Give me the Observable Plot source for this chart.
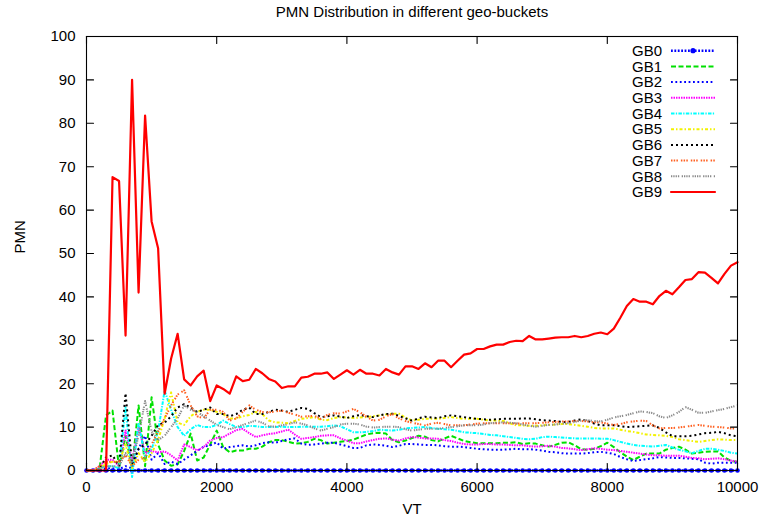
<!DOCTYPE html>
<html>
<head>
<meta charset="utf-8">
<script src="https://cdn.jsdelivr.net/npm/d3@7"></script>
<script src="https://cdn.jsdelivr.net/npm/@observablehq/plot@0.6"></script>
<style>
  html, body { margin: 0; padding: 0; background: #fff; }
  #chart { width: 760px; height: 519px; }
</style>
</head>
<body>
<div id="chart"></div>
<script>
// Sampling grid (VT) shared by every geo-bucket series
const vt = [
  0, 100, 200, 300, 400, 500, 600, 700, 800, 900,
  1000, 1100, 1200, 1300, 1400, 1500, 1600, 1700, 1800, 1900,
  2000, 2100, 2200, 2300, 2400, 2500, 2600, 2700, 2800, 2900,
  3000, 3100, 3200, 3300, 3400, 3500, 3600, 3700, 3800, 3900,
  4000, 4100, 4200, 4300, 4400, 4500, 4600, 4700, 4800, 4900,
  5000, 5100, 5200, 5300, 5400, 5500, 5600, 5700, 5800, 5900,
  6000, 6100, 6200, 6300, 6400, 6500, 6600, 6700, 6800, 6900,
  7000, 7100, 7200, 7300, 7400, 7500, 7600, 7700, 7800, 7900,
  8000, 8100, 8200, 8300, 8400, 8500, 8600, 8700, 8800, 8900,
  9000, 9100, 9200, 9300, 9400, 9500, 9600, 9700, 9800, 9900,
  10000
];

const gb0 = [
  0, 0, 0, 0, 0, 0, 0, 0, 0, 0,
  0, 0, 0, 0, 0, 0, 0, 0, 0, 0,
  0, 0, 0, 0, 0, 0, 0, 0, 0, 0,
  0, 0, 0, 0, 0, 0, 0, 0, 0, 0,
  0, 0, 0, 0, 0, 0, 0, 0, 0, 0,
  0, 0, 0, 0, 0, 0, 0, 0, 0, 0,
  0, 0, 0, 0, 0, 0, 0, 0, 0, 0,
  0, 0, 0, 0, 0, 0, 0, 0, 0, 0,
  0, 0, 0, 0, 0, 0, 0, 0, 0, 0,
  0, 0, 0, 0, 0, 0, 0, 0, 0, 0,
  0
];

const gb1 = [
  0, 0, 0.3, 12.7, 13.8, 0.5, 8, 0.5, 15, 1,
  16.9, 6, 2.3, 1.1, 1.4, 4.5, 8.5, 2.3, 3, 6,
  9.2, 5.4, 4.2, 4.6, 4.6, 5.0, 5.0, 5.5, 6.5, 7.0,
  7.0, 6.6, 6.2, 6.3, 6.6, 7.3, 7.0, 6.2, 6.4, 6.6,
  6.8, 7.1, 7.7, 8.3, 8.6, 8.7, 8.5, 7.0, 6.5, 6.9,
  7.5, 8.0, 7.8, 7.0, 6.7, 7.4, 8.0, 7.4, 6.8, 6.5,
  6.3, 6.3, 6.3, 6.3, 6.4, 6.4, 6.5, 6.1, 6.3, 6.2,
  5.8, 5.5, 5.9, 6.4, 6.5, 5.8, 4.9, 4.8, 5.0, 5.6,
  6.4, 5.4, 4.2, 3.2, 2.4, 3.2, 3.9, 3.9, 3.9, 4.8,
  5.2, 5.5, 4.8, 3.9, 4.1, 4.3, 4.4, 4.4, 3.0, 2.2,
  2.0
];

const gb2 = [
  0, 0, 0, 0.5, 0.5, 0.3, 1, 0.5, 5, 8,
  2.5, 4, 1.5, 2, 1.5, 2.5, 3.5, 4.5, 5.5, 5.8,
  6.5, 5, 5.4, 5.6, 5.8, 5.5, 5.8, 6.3, 6.5, 6.4,
  6.8, 7.2, 7.4, 6.2, 5.9, 6.0, 6.2, 6.4, 6.4, 6.0,
  5.6, 5.2, 5.2, 5.8, 6.0, 5.9, 5.7, 5.4, 5.7, 6.1,
  6.1, 6.0, 5.9, 5.9, 5.8, 5.6, 5.5, 5.5, 5.4, 5.2,
  5.0, 4.9, 4.8, 4.8, 4.8, 4.9, 5.0, 4.9, 4.9, 4.8,
  4.6, 4.3, 4.2, 4.0, 3.9, 3.9, 3.9, 4.0, 4.2, 4.3,
  4.1, 3.8, 3.1, 2.6, 2.2, 2.4, 2.6, 2.8, 3.1, 3.0,
  2.9, 2.9, 2.8, 2.7, 2.6, 1.8, 1.6, 1.8, 1.8, 1.8,
  1.8
];

const gb3 = [
  0, 0, 1, 2.5, 2.5, 1, 9.2, 2, 10, 4,
  4.5, 4.2, 4.4, 3.5, 2.3, 6, 5.4, 4.6, 5.4, 6.9,
  7.5, 7.7, 8.5, 9.3, 9.6, 8.6, 7.7, 8.1, 8.4, 8.6,
  9.0, 9.4, 8.3, 7.3, 7.5, 7.7, 8.0, 8.1, 8.1, 7.4,
  6.9, 6.3, 6.3, 6.7, 7.0, 7.3, 7.4, 7.1, 6.9, 7.4,
  7.7, 7.6, 7.4, 7.4, 7.3, 7.0, 6.8, 6.4, 6.1, 6.0,
  6.0, 6.1, 6.1, 6.0, 6.0, 5.9, 5.8, 5.8, 5.6, 5.5,
  5.6, 5.7, 5.5, 5.2, 5.1, 4.9, 4.7, 4.9, 5.1, 5.0,
  4.8, 4.7, 4.5, 4.3, 4.1, 3.9, 3.7, 3.5, 3.5, 3.4,
  3.4, 3.4, 3.2, 2.9, 2.8, 2.6, 2.7, 2.8, 2.6, 2.3,
  2.0
];

const gb4 = [
  0, 0, 0.5, 1, 1, 0.5, 14.5, -1.5, 11, 3,
  5, 9, 18.4, 14, 10, 8, 9.5, 10.5, 10, 10,
  10.5, 11.5, 10.7, 10, 10, 10.3, 10.2, 10, 10, 10,
  10.1, 10.0, 10.0, 10.1, 10.1, 10.1, 10.1, 10.2, 10.4, 10.2,
  9.5, 8.8, 8.8, 8.9, 9.1, 9.4, 9.3, 9.2, 9.4, 9.7,
  9.8, 9.9, 10.0, 9.8, 9.6, 9.5, 9.4, 9.1, 8.8, 8.7,
  8.6, 8.4, 8.2, 8.1, 7.9, 7.7, 7.5, 7.3, 7.2, 7.3,
  7.7, 7.8, 7.7, 7.6, 7.5, 7.4, 7.4, 7.4, 7.4, 7.3,
  7.3, 7.0, 6.6, 6.2, 5.9, 5.7, 5.6, 5.5, 5.7, 5.9,
  5.3, 4.8, 4.4, 4.0, 4.5, 5.0, 5.0, 4.8, 4.5, 4.1,
  3.9
];

const gb5 = [
  0, 0, 0.5, 1.5, 2, 2, 6, 0.5, 4, 2,
  4, 7, 12, 18, 11, 10.5, 12.5, 13.5, 14, 14,
  13.5, 13, 12, 12, 12.5, 12.8, 13.5, 13, 11.5, 11.1,
  11, 10.9, 11.4, 11.9, 12.1, 12.3, 11.7, 11.6, 12.1, 12.3,
  12.2, 12.1, 12.2, 12.3, 12.5, 12.7, 12.9, 13.1, 13.1, 12.2,
  11.5, 11.7, 11.9, 11.9, 11.9, 12.1, 12.3, 12.1, 11.9, 11.9,
  11.9, 11.7, 11.5, 11.5, 11.4, 10.9, 10.4, 10.4, 10.3, 10.3,
  10.4, 10.5, 10.6, 10.7, 10.7, 10.5, 10.3, 10.1, 9.8, 9.7,
  9.7, 9.7, 9.4, 9.1, 8.9, 8.6, 8.3, 8.2, 8.1, 8.0,
  7.7, 7.2, 7.0, 6.8, 6.6, 6.8, 7.0, 7.2, 7.1, 7.0,
  7.0
];

const gb6 = [
  0, 0, 0.5, 3, 3.5, 1, 17.8, 1.5, 5, 6,
  8, 10.5, 11, 12.5, 14.5, 15.3, 14.5, 13.5, 14, 14.5,
  13, 13, 12.5, 13, 14, 14.5, 13, 13, 13.5, 14,
  13.8, 13.5, 14, 14.4, 14.2, 13.2, 12.3, 12.5, 12.7, 12.4,
  12.1, 12.5, 12.8, 12.5, 12.3, 12.7, 13, 13.1, 12.6, 12,
  11.5, 12, 12.4, 12.2, 12.1, 12.5, 12.7, 12.5, 12.3, 12.1,
  11.9, 11.8, 11.7, 11.8, 11.9, 11.9, 11.9, 12, 12, 11.8,
  11.6, 11.5, 11.4, 11.2, 11.2, 11.5, 11.8, 11.4, 10.8, 10.4,
  10.4, 10.4, 10.2, 10.0, 10.1, 10.2, 10.3, 10.4, 9.8, 8.8,
  7.9, 7.9, 7.9, 8.0, 8.3, 8.6, 8.7, 8.9, 8.6, 8.1,
  7.9
];

const gb7 = [
  0, 0, 1, 2, 2, 2, 3.5, 1, 2.5, 3,
  6, 9, 12, 15, 17.5, 18.5, 15, 12.5, 12, 14,
  14, 13.5, 11.5, 12, 13.5, 15, 14, 13.5, 13.4, 13.6,
  13.8, 13.3, 12.9, 12.4, 12.5, 12.6, 11.9, 12.8, 13.2, 13.1,
  13.6, 14.2, 13.4, 12.4, 11.5, 11.7, 12.5, 13, 12, 11.4,
  11, 10.7, 10.4, 10.8, 11, 10.7, 10.4, 10.4, 10.4, 10.6,
  10.8, 10.9, 10.9, 10.9, 10.9, 10.9, 10.8, 10.9, 10.9, 10.9,
  11, 11.1, 11.2, 11.3, 11.3, 11.4, 11.4, 11.3, 11.1, 11.1,
  10.8, 10.5, 10.7, 11.1, 11.3, 11.5, 11.4, 10.4, 9.7, 9.8,
  9.8, 9.9, 10.1, 10.3, 10.5, 10.3, 10.1, 10, 9.9, 9.7,
  9.7
];

const gb8 = [
  0, 0, 0.5, 1, 1, 1, 4, 2, 8, 16,
  9, 7, 8, 10, 12, 15, 14, 13.5, 12.5, 11.5,
  10.5, 10, 9.5, 10, 10.5, 11, 11.5, 11, 10.2, 10.1,
  10.4, 10.7, 11.1, 10.8, 10.4, 9.7, 9.2, 9.6, 10.0, 10.6,
  10.8, 10.8, 10.6, 10.1, 9.9, 10.0, 10.1, 10.1, 10.0, 9.5,
  9.2, 9.4, 9.6, 9.6, 9.6, 9.8, 10.0, 10.2, 10.4, 10.4,
  10.4, 10.6, 10.9, 11.0, 11.1, 11.0, 10.9, 10.6, 10.3, 10.1,
  10.3, 10.5, 10.6, 10.8, 10.9, 11.2, 11.5, 11.6, 11.4, 11.3,
  11.7, 12.2, 12.5, 12.8, 13.2, 13.6, 13.5, 13.2, 12.5, 12.1,
  12.7, 13.5, 14.6, 14, 13.3, 13.3, 13.6, 13.9, 14.2, 14.6,
  15.0
];

const gb9 = [
  0, 0, 0, 0, 67.6, 66.7, 31.1, 90, 41, 81.8,
  57.4, 51.2, 17.7, 25.8, 31.5, 21, 19.6, 21.7, 23, 16,
  19.6, 18.8, 17.7, 21.7, 20.6, 20.9, 23.4, 22.4, 21.1, 20.5,
  19.0, 19.4, 19.4, 21.4, 21.6, 22.3, 22.3, 22.6, 21.1, 22.1,
  23.1, 22.1, 23.2, 22.3, 22.3, 21.9, 23.4, 22.6, 22.1, 24,
  24, 23.4, 24.7, 23.8, 25.3, 25.3, 23.8, 25.3, 26.7, 27.0,
  28.0, 28.0, 28.6, 29.0, 29.0, 29.6, 29.9, 29.8, 31, 30.2,
  30.2, 30.4, 30.6, 30.7, 30.7, 31, 30.7, 31, 31.5, 31.8,
  31.4, 32.7, 35.2, 37.9, 39.5, 38.9, 38.9, 38.3, 40.2, 41.4,
  40.6, 42.2, 43.9, 44.1, 45.7, 45.6, 44.4, 43.1, 45.3, 47.2,
  48.0
];

const seriesNames = ["GB0", "GB1", "GB2", "GB3", "GB4", "GB5", "GB6", "GB7", "GB8", "GB9"];
const seriesValues = [gb0, gb1, gb2, gb3, gb4, gb5, gb6, gb7, gb8, gb9];

const xTicks = [0, 2000, 4000, 6000, 8000, 10000];
const yTicks = [0, 10, 20, 30, 40, 50, 60, 70, 80, 90, 100];

const titleText = "PMN Distribution in different geo-buckets";
const xLabel = "VT";
const yLabel = "PMN";

// line styles per bucket
const colors = ["#0000ff", "#00e000", "#0000ff", "#ff00ff", "#00ffff", "#f2f200", "#000000", "#ff6020", "#8a8a8a", "#ff0000"];
const dashes = [
  "1.8,1.6",
  "5,2.5",
  "1.8,2.6",
  "1.5,1",
  "3.5,1.3,1.3,1.3",
  "3,2,1.5,2",
  "2,3",
  "1.5,1.2,1.5,1.2,1.5,3",
  "1.3,1,1.3,1,1.3,1,1.3,2.5",
  null
];
const widths = [2.6, 2, 2, 2, 2, 2, 2, 2, 2, 2.2];

// long-format rows built from the arrays above
const rows = seriesNames.map((name, s) =>
  vt.map((x, i) => ({vt: x, value: seriesValues[s][i], series: name}))
);

const font = "'Liberation Sans', Arial, Helvetica, sans-serif";
const plain = (d) => String(d);

const lineMarks = rows.map((data, s) =>
  Plot.line(data, {
    x: "vt",
    y: "value",
    stroke: colors[s],
    strokeWidth: widths[s],
    strokeDasharray: dashes[s] ?? undefined,
    strokeLinecap: dashes[s] ? "butt" : "round",
    strokeLinejoin: "round"
  })
);

// short plain tick marks pointing into the frame (a vector without a head)
const tickShape = {draw(context, l) { context.moveTo(0, 0); context.lineTo(0, -l); }};
const tickStyle = {length: 7, anchor: "start", shape: tickShape, stroke: "#000", strokeWidth: 1.1};
const ident = (d) => d;

const chart = Plot.plot({
  width: 760,
  height: 519,
  marginTop: 36,
  marginRight: 23,
  marginBottom: 49,
  marginLeft: 86,
  style: {fontFamily: font, fontSize: "15px", background: "#fff", color: "#000", overflow: "visible"},
  x: {domain: [0, 10000]},
  y: {domain: [0, 100]},
  marks: [
    // GB0 first so the other buckets draw over it
    lineMarks[0],
    Plot.dot(rows[0], {x: "vt", y: "value", r: 2.3, fill: colors[0], stroke: "none"}),
    ...lineMarks.slice(1),
    Plot.frame({stroke: "#000", strokeWidth: 1.1}),
    // tick labels
    Plot.axisX(xTicks, {anchor: "bottom", tickSize: 0, tickPadding: 11, tickFormat: plain, label: null, fontSize: 15}),
    Plot.axisY(yTicks, {anchor: "left", tickSize: 0, tickPadding: 11, tickFormat: plain, label: null, fontSize: 15}),
    // tick marks on all four sides
    Plot.vector(xTicks, {x: ident, frameAnchor: "bottom", rotate: 0, ...tickStyle}),
    Plot.vector(xTicks, {x: ident, frameAnchor: "top", rotate: 180, ...tickStyle}),
    Plot.vector(yTicks, {y: ident, frameAnchor: "left", rotate: 90, ...tickStyle}),
    Plot.vector(yTicks, {y: ident, frameAnchor: "right", rotate: -90, ...tickStyle}),
    // title and axis titles
    Plot.text([titleText], {frameAnchor: "top", dy: -24, fontSize: 15, lineAnchor: "middle"}),
    Plot.text([xLabel], {frameAnchor: "bottom", dy: 39, fontSize: 15, lineAnchor: "middle"}),
    Plot.text([yLabel], {frameAnchor: "left", dx: -66, rotate: -90, fontSize: 15, lineAnchor: "middle"})
  ]
});

document.getElementById("chart").appendChild(chart);

// key in the upper-right corner of the frame
const svg = d3.select(chart);
const frameRight = 760 - 23;
const frameTop = 36;
const legend = svg.append("g")
  .attr("font-family", font)
  .attr("font-size", 15);

seriesNames.forEach((name, s) => {
  const y = frameTop + 14.7 + s * 15.7;
  legend.append("text")
    .attr("x", frameRight - 75)
    .attr("y", y)
    .attr("dy", "0.35em")
    .attr("text-anchor", "end")
    .attr("fill", "#000")
    .text(name);
  legend.append("line")
    .attr("x1", frameRight - 66)
    .attr("x2", frameRight - 22)
    .attr("y1", y)
    .attr("y2", y)
    .attr("stroke", colors[s])
    .attr("stroke-width", widths[s])
    .attr("stroke-dasharray", dashes[s])
    .attr("stroke-linecap", dashes[s] ? "butt" : "round");
  if (s === 0) {
    legend.append("circle")
      .attr("cx", frameRight - 44)
      .attr("cy", y)
      .attr("r", 2.6)
      .attr("fill", colors[0]);
  }
});
</script>
</body>
</html>
